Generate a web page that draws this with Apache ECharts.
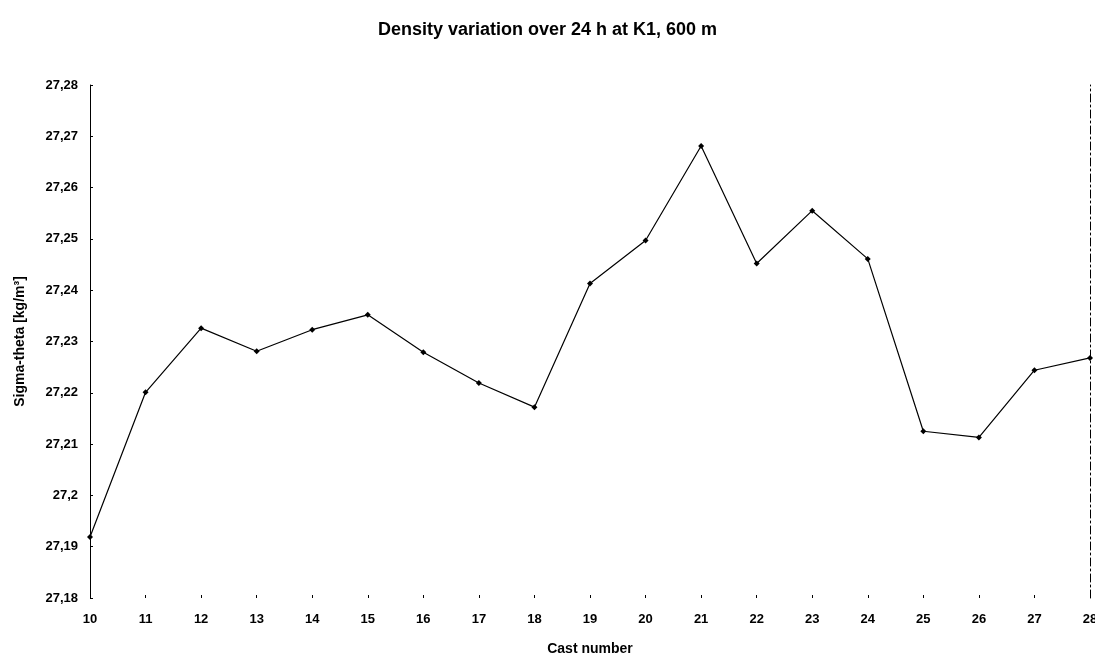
<!DOCTYPE html>
<html>
<head>
<meta charset="utf-8">
<script src="https://cdn.jsdelivr.net/npm/echarts@6/dist/echarts.min.js"></script>
<style>html,body{margin:0;padding:0;background:#fff}#c{width:1095px;height:655px}</style>
</head>
<body>
<div id="c"></div>
<script>
const castNumbers = ['10','11','12','13','14','15','16','17','18','19','20','21','22','23','24','25','26','27','28'];
const sigmaTheta = [27.1919, 27.2201, 27.2326, 27.2281, 27.2323, 27.2352, 27.2279, 27.2219, 27.2172, 27.2413, 27.2497, 27.2681, 27.2452, 27.2555, 27.2461, 27.2125, 27.2113, 27.2244, 27.2268];
const yMin = 27.18, yMax = 27.28, yStep = 0.01;

const chart = echarts.init(document.getElementById('c'), null, {renderer: 'canvas'});
const fmt = v => {
  let s = (Math.round(v * 100) / 100).toFixed(2);
  s = s.replace(/0+$/, '').replace(/\.$/, '');
  return s.replace('.', ',');
};
chart.setOption({
  animation: false,
  backgroundColor: '#fff',
  title: {
    text: 'Density variation over 24 h at K1, 600 m',
    left: 'center', top: 16,
    textStyle: {fontFamily: 'Liberation Sans', fontSize: 18, fontWeight: 'bold', color: '#000'}
  },
  grid: {left: 90, right: 5, top: 85, bottom: 57, outerBoundsMode: 'none', containLabel: false},
  xAxis: {
    type: 'category', data: castNumbers, boundaryGap: false,
    name: 'Cast number', nameLocation: 'middle', nameGap: 44,
    nameTextStyle: {fontFamily: 'Liberation Sans', fontSize: 14, fontWeight: 'bold', color: '#000'},
    axisLine: {show: false},
    axisTick: {show: true, inside: true, length: 3, lineStyle: {color: '#000'}},
    axisLabel: {fontFamily: 'Liberation Sans', fontSize: 13, fontWeight: 'bold', color: '#000', margin: 15},
    splitLine: {show: false}
  },
  yAxis: [{
    type: 'value', min: yMin, max: yMax, interval: yStep,
    name: 'Sigma-theta [kg/m³]', nameLocation: 'middle', nameGap: 63,
    nameTextStyle: {fontFamily: 'Liberation Sans', fontSize: 14, fontWeight: 'bold', color: '#000'},
    axisLine: {show: true, lineStyle: {color: '#000', width: 1}},
    axisTick: {show: true, inside: true, length: 3, lineStyle: {color: '#000'}},
    axisLabel: {formatter: fmt, fontFamily: 'Liberation Sans', fontSize: 13, fontWeight: 'bold', color: '#000', margin: 12},
    splitLine: {show: false}
  }, {
    type: 'value', min: yMin, max: yMax, interval: yStep, position: 'right',
    axisLine: {show: true, lineStyle: {color: '#000', width: 1, type: [8, 3, 2, 3]}},
    axisTick: {show: false}, axisLabel: {show: false}, splitLine: {show: false}
  }],
  series: [{
    type: 'line', data: sigmaTheta, yAxisIndex: 0,
    symbol: 'diamond', symbolSize: 6,
    itemStyle: {color: '#000'},
    lineStyle: {color: '#000', width: 1.2}
  }]
});
</script>
</body>
</html>
